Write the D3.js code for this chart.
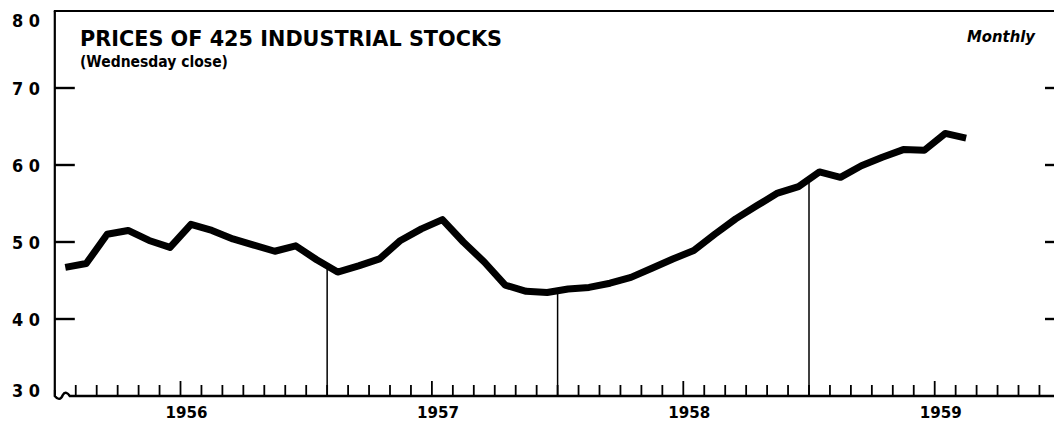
<!DOCTYPE html>
<meta charset="utf-8">
<title>Prices of 425 Industrial Stocks</title>
<style>
body { margin: 0; background: #fff; }
svg { display: block; }
text { font-family: "DejaVu Sans", sans-serif; font-weight: bold; fill: #000; }
</style>
<svg width="1054" height="426"></svg>
<script src="https://d3js.org/d3.v7.min.js"></script>
<script>

// monthly closes, Jul 1955 .. Feb 1959
var prices = [
  46.7, 47.2, 51.0, 51.5, 50.2, 49.3,              // 1955 Jul-Dec
  52.3, 51.5, 50.4, 49.6, 48.8, 49.5,              // 1956
  47.7, 46.1, 46.9, 47.8, 50.2, 51.7,
  52.9, 50.0, 47.4, 44.4, 43.6, 43.45,             // 1957
  43.9, 44.1, 44.65, 45.4, 46.6, 47.8,
  48.9, 51.0, 53.0, 54.7, 56.35, 57.2,             // 1958
  59.1, 58.4, 59.9, 61.0, 62.0, 61.9,
  64.1, 63.5                                       // 1959
];
var firstMonth = -6;           // months from Jan 1956 of the first value's month
var years = [1956, 1957, 1958, 1959];
var yTicks = [40, 50, 60, 70];
var yLabels = [30, 40, 50, 60, 70, 80];
var markerMonths = [7, 18, 30]; // vertical rules: Aug 1956, Jul 1957, Jul 1958

var svg = d3.select("svg");

// x in months since Jan 1 1956, y in index points
var x = d3.scaleLinear().domain([0, 36]).range([180.5, 934.7]);
var y = d3.scaleLinear().domain([30, 80]).range([396, 11]);

var pts = prices.map(function(v, i) { return { m: firstMonth + i + 0.5, v: v }; });

// frame: left and top borders
svg.append("line")
  .attr("x1", x(-6)).attr("x2", x(-6))
  .attr("y1", y(80)).attr("y2", y(30) - 6)
  .attr("stroke", "#000").attr("stroke-width", 2.2);
svg.append("line")
  .attr("x1", x(-6) - 1).attr("x2", 1054)
  .attr("y1", y(80)).attr("y2", y(80))
  .attr("stroke", "#000").attr("stroke-width", 2.2);

// bottom axis with a little break squiggle
var x0 = x(-6);
svg.append("path")
  .attr("d", "M" + x0 + "," + (y(30) - 6) + " L" + x0 + "," + y(30) +
       " C" + (x0 + 3) + "," + (y(30) + 4) + " " + (x0 + 6) + "," + (y(30) + 4) + " " + (x0 + 8) + "," + (y(30) - 1) +
       " C" + (x0 + 10) + "," + (y(30) - 5) + " " + (x0 + 13) + "," + (y(30) - 3) + " " + (x0 + 15) + "," + y(30) +
       " L1054," + y(30))
  .attr("fill", "none").attr("stroke", "#000").attr("stroke-width", 2.4);

// month ticks
var months = d3.range(-5, 42);
svg.selectAll(".mtick").data(months).enter().append("line")
  .attr("class", "mtick")
  .attr("x1", function(d) { return x(d); }).attr("x2", function(d) { return x(d); })
  .attr("y1", y(30))
  .attr("y2", function(d) { return y(30) - (d % 12 === 0 ? 15 : 11); })
  .attr("stroke", "#000").attr("stroke-width", 1.8);

// year labels
svg.selectAll(".year").data(years).enter().append("text")
  .attr("class", "year")
  .attr("x", function(d) { return x((d - 1956) * 12) + 6; })
  .attr("y", 418)
  .attr("text-anchor", "middle")
  .style("font-size", "15px")
  .attr("textLength", 42).attr("lengthAdjust", "spacingAndGlyphs")
  .text(function(d) { return d; });

// y ticks, left and right
svg.selectAll(".ltick").data(yTicks).enter().append("line")
  .attr("x1", x(-6)).attr("x2", x(-6) + 20)
  .attr("y1", function(d) { return y(d); }).attr("y2", function(d) { return y(d); })
  .attr("stroke", "#000").attr("stroke-width", 2.4);
svg.selectAll(".rtick").data(yTicks).enter().append("line")
  .attr("x1", 1045).attr("x2", 1054)
  .attr("y1", function(d) { return y(d); }).attr("y2", function(d) { return y(d); })
  .attr("stroke", "#000").attr("stroke-width", 2.4);

// y labels (top and bottom ones nudged inside the frame, as printed)
svg.selectAll(".ylab").data(yLabels).enter().append("text")
  .attr("x", 12)
  .attr("y", function(d) { return y(d) + (d === 80 ? 16 : d === 30 ? 1 : 6.5); })
  .style("font-size", "17px")
  .attr("textLength", 28).attr("lengthAdjust", "spacingAndGlyphs")
  .text(function(d) { return d.toString().split("").join(" "); });

// vertical rules from the curve down to the axis
var onCurve = d3.scaleLinear().domain(pts.map(function(d) { return d.m; }))
  .range(pts.map(function(d) { return d.v; }));
svg.selectAll(".rule").data(markerMonths).enter().append("line")
  .attr("x1", function(d) { return x(d); }).attr("x2", function(d) { return x(d); })
  .attr("y1", function(d) { return y(onCurve(d)); }).attr("y2", y(30))
  .attr("stroke", "#000").attr("stroke-width", 1.5);

// the price line
var line = d3.line()
  .x(function(d) { return x(d.m); })
  .y(function(d) { return y(d.v); });
svg.append("path")
  .datum(pts)
  .attr("d", line)
  .attr("fill", "none").attr("stroke", "#000")
  .attr("stroke-width", 7).attr("stroke-linejoin", "round");

// titles
svg.append("text")
  .attr("x", 80).attr("y", 45.5)
  .style("font-size", "21px")
  .attr("textLength", 422).attr("lengthAdjust", "spacingAndGlyphs")
  .text("PRICES OF 425 INDUSTRIAL STOCKS");
svg.append("text")
  .attr("x", 80).attr("y", 67)
  .style("font-size", "15px")
  .attr("textLength", 148).attr("lengthAdjust", "spacingAndGlyphs")
  .text("(Wednesday close)");
svg.append("text")
  .attr("x", 967).attr("y", 42)
  .style("font-size", "15px").style("font-style", "italic")
  .attr("textLength", 68).attr("lengthAdjust", "spacingAndGlyphs")
  .text("Monthly");

</script>
